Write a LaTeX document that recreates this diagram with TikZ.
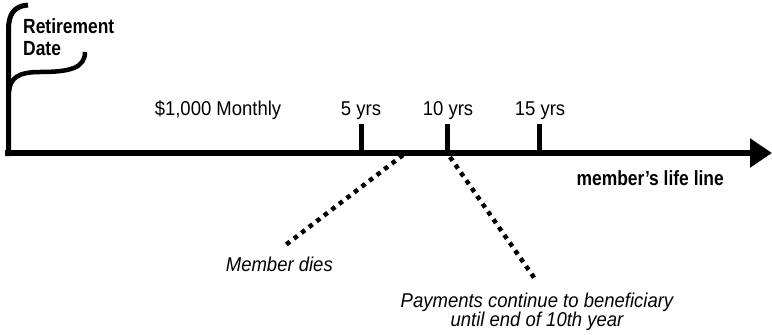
\documentclass[tikz,border=0pt]{standalone}
\usepackage{fontspec}
\setmainfont{Liberation Sans}[FakeStretch=0.925]
\newfontfamily\condbf{Liberation Sans}[FakeStretch=0.85]
\usetikzlibrary{arrows.meta}
\begin{document}
\begin{tikzpicture}[x=1pt,y=-1pt,
  thick line/.style={line width=5.5pt},
  dotline/.style={line width=4.5pt, dash pattern=on 4.5pt off 5pt},
  lbl/.style={font=\fontsize{20}{22}\selectfont, inner sep=0pt, anchor=base},
  blbl/.style={font=\fontsize{20.5}{22}\selectfont\condbf\bfseries, inner sep=0pt, align=left},
  ilbl/.style={font=\fontsize{20}{20}\selectfont\itshape, inner sep=0pt, align=center}]
\useasboundingbox (0,0) rectangle (772,335);
% main line
\coordinate (start) at (5,153);
\coordinate (end) at (772,153);
\draw[thick line, -{Triangle[length=22pt,width=28pt]}] (start) -- (end);
% retirement bracket
\coordinate (top) at (28,5);
\coordinate (brk) at (85,52);
\draw[line width=5pt] (8.5,156) -- (8.5,30) .. controls (8.5,14) and (14,6) .. (top);
\draw[line width=4.5pt] (9,92) .. controls (10,78) and (18,72) .. (40,72) .. controls (70,72) and (85,68) .. (brk);
\node[blbl, anchor=base west] (ret) at (23,33) {Retirement};
\node[blbl, anchor=base west] (date) at (23,55) {Date};
% ticks
\foreach \n/\x in {t5/361, t10/447, t15/539}{
  \coordinate (\n a) at (\x,124);
  \coordinate (\n b) at (\x,153);
  \draw[line width=5pt] (\n a) -- (\n b);
}
\node[lbl] (l5) at (361,115) {5 yrs};
\node[lbl] (l10) at (448,115) {10 yrs};
\node[lbl] (l15) at (540,115) {15 yrs};
\node[lbl] (monthly) at (218,115) {\$1,000 Monthly};
\node[blbl, anchor=base east] (life) at (724,185) {member’s life line};
% dotted connectors
\coordinate (d1a) at (403,155);
\coordinate (d1b) at (283,247);
\coordinate (d2a) at (450,157);
\coordinate (d2b) at (535,279);
\draw[dotline] (d1a) -- (d1b);
\draw[dotline] (d2a) -- (d2b);
\node[ilbl, anchor=base east] (dies) at (333,271) {Member dies};
\node[ilbl, anchor=base] (pay) at (537,307) {Payments continue to beneficiary};
\node[ilbl, anchor=base] (pay2) at (537,326) {until end of 10th year};
\end{tikzpicture}
\end{document}
